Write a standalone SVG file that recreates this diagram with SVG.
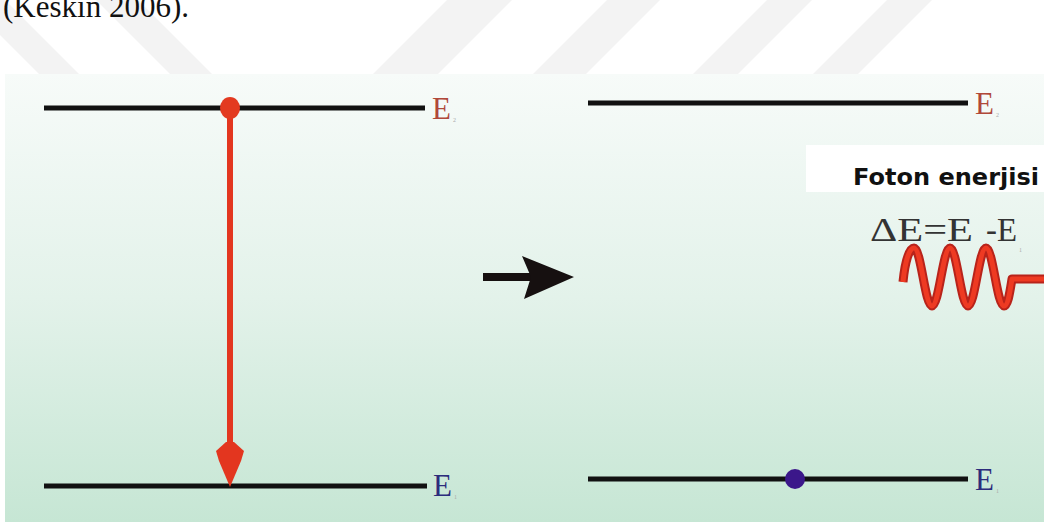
<svg xmlns="http://www.w3.org/2000/svg" width="1044" height="522" viewBox="0 0 1044 522">
  <defs>
    <linearGradient id="bg" x1="0" y1="0" x2="0" y2="1">
      <stop offset="0" stop-color="#f7fbf9"/>
      <stop offset="0.5" stop-color="#e3f2ea"/>
      <stop offset="1" stop-color="#c6e6d4"/>
    </linearGradient>
    <style>
      .lvl { stroke: #111; stroke-width: 5; }
      .eRed { font-family: "Liberation Serif", serif; font-size: 31px; fill: #b0483a; }
      .eBlue { font-family: "Liberation Serif", serif; font-size: 31px; fill: #2c2c7c; }
      .sub { font-family: "Liberation Serif", serif; font-size: 6px; fill: #aaa; }
      .wm { fill: #f3f3f3; }
    </style>
  </defs>
  <rect width="1044" height="522" fill="#ffffff"/>
  <g id="watermark">
    <polygon class="wm" points="-35,0 5,0 80,75 40,75"/>
    <polygon class="wm" points="96,0 138,0 213,75 171,75"/>
    <polygon class="wm" points="447,0 512,0 437,75 372,75"/>
    <polygon class="wm" points="607,0 660,0 585,75 532,75"/>
    <polygon class="wm" points="767,0 812,0 737,75 692,75"/>
    <polygon class="wm" points="887,0 932,0 857,75 812,75"/>
  </g>
  <text x="3" y="17" font-family="Liberation Serif, serif" font-size="31" fill="#111">(Keskin 2006).</text>
  <rect id="panel" x="5" y="74" width="1039" height="448" fill="url(#bg)"/>

  <g id="level-E2-left">
    <line class="lvl" x1="44" y1="108" x2="425" y2="108"/>
    <text class="eRed" x="432" y="119">E</text>
    <text class="sub" x="453" y="122">2</text>
  </g>
  <g id="level-E1-left">
    <line class="lvl" x1="44" y1="486" x2="427" y2="486"/>
    <text class="eBlue" x="433" y="496">E</text>
    <text class="sub" x="454" y="499">1</text>
  </g>
  <g id="level-E2-right">
    <line class="lvl" x1="588" y1="103" x2="968" y2="103"/>
    <text class="eRed" x="975" y="114">E</text>
    <text class="sub" x="996" y="117">2</text>
  </g>
  <g id="level-E1-right">
    <line class="lvl" x1="588" y1="479" x2="968" y2="479"/>
    <text class="eBlue" x="975" y="490">E</text>
    <text class="sub" x="996" y="493">1</text>
  </g>

  <g id="connectors">
    <line x1="230" y1="108" x2="230" y2="448" stroke="#e3361f" stroke-width="6"/>
    <path d="M226,442 L234,442 L244,451 L241,461 L230,487 L219,461 L216,451 Z" fill="#e3361f"/>
    <rect x="483" y="273" width="48" height="8" fill="#161010"/>
    <polygon points="522,256 574,277 524,299 531,277" fill="#161010"/>
  </g>

  <g id="electron-excited">
    <ellipse cx="230" cy="108" rx="10" ry="11" fill="#e33a20"/>
  </g>
  <g id="electron-ground">
    <circle cx="795" cy="479" r="10" fill="#3b178a"/>
  </g>

  <g id="photon">
    <rect x="806" y="145" width="238" height="47" fill="#ffffff"/>
    <text x="853" y="185" font-family="DejaVu Sans, sans-serif" font-weight="bold" font-size="23" fill="#111" textLength="186" lengthAdjust="spacingAndGlyphs">Foton enerjisi</text>
    <text x="870" y="241" font-family="Liberation Serif, serif" font-size="34" fill="#333" textLength="103" lengthAdjust="spacingAndGlyphs">ΔE=E</text>
    <text class="sub" x="979" y="252">2</text>
    <text x="986" y="241" font-family="Liberation Serif, serif" font-size="34" fill="#333" textLength="31" lengthAdjust="spacingAndGlyphs">-E</text>
    <text class="sub" x="1019" y="252">1</text>
    <path d="M903,282 C905,262 909,248 914,248 C921,248 925,306 932,306 C939,306 943,248 950,248 C957,248 961,306 968,306 C975,306 979,248 986,248 C993,248 997,306 1004,306 C1008,306 1010,291 1012,279 L1044,279" fill="none" stroke="#b8231a" stroke-width="9" stroke-linejoin="round"/>
    <path d="M903,282 C905,262 909,248 914,248 C921,248 925,306 932,306 C939,306 943,248 950,248 C957,248 961,306 968,306 C975,306 979,248 986,248 C993,248 997,306 1004,306 C1008,306 1010,291 1012,279 L1044,279" fill="none" stroke="#ee3a22" stroke-width="5" stroke-linejoin="round"/>
  </g>
</svg>
